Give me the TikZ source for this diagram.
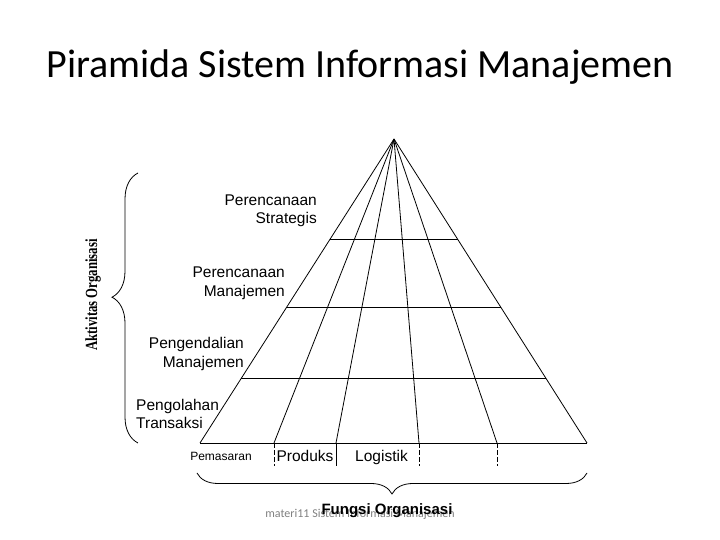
\documentclass[tikz,border=0pt]{standalone}
\usepackage{fontspec}
\setmainfont{Liberation Sans}
\newfontfamily\titlefont{Carlito}
\newfontfamily\serifbold{Liberation Serif}
\usetikzlibrary{calc,decorations.pathreplacing}
\begin{document}
\begin{tikzpicture}[x=1pt, y=1pt,
      lvl/.style={inner sep=0pt, font=\fontsize{15.5}{18.5}\selectfont},
      edge/.style={line width=0.8pt},
      tick/.style={line width=0.8pt, dashed, dash pattern=on 5pt off 2pt},
      curly/.style={line width=0.8pt, decorate}
    ]
      \useasboundingbox (0,0) rectangle (720,540);

      \node[anchor=base, inner sep=0pt, font=\titlefont\fontsize{40}{46}\selectfont] (title) at (360,462) {Piramida Sistem Informasi Manajemen};

      \coordinate (A) at (394,401);
      \coordinate (b0) at (200,97);
      \coordinate (b1) at (274,97);
      \coordinate (b2) at (336,97);
      \coordinate (b3) at (419,97);
      \coordinate (b4) at (497,97);
      \coordinate (b5) at (587,97);

      \foreach \i in {0,...,5}
        \draw[edge] (A) -- (b\i);
      \draw[edge] (b0) -- (b5);
      \foreach \t in {0.329,0.553,0.789}
        \draw[edge] ($(A)!\t!(b0)$) -- ($(A)!\t!(b5)$);

      \draw[tick] (b1) -- ++(0,-23);
      \draw[edge] (b2) -- ++(0,-23);
      \draw[tick] (b3) -- ++(0,-23);
      \draw[tick] (b4) -- ++(0,-23);

      \node[lvl, anchor=east, align=right] (strat) at (317,329) {Perencanaan\\Strategis};
      \node[lvl, anchor=east, align=right] (renc) at (285,256.5) {Perencanaan\\Manajemen};
      \node[lvl, anchor=east, align=right] (kend) at (244,186) {Pengendalian\\Manajemen};
      \node[lvl, anchor=west, align=left] (olah) at (136,126) {Pengolahan\\Transaksi};

      \node[anchor=base, inner sep=0pt, font=\fontsize{12}{14}\selectfont] (pasar) at (221,79) {Pemasaran};
      \node[lvl, anchor=base] (prod) at (305,78) {Produks};
      \node[lvl, anchor=base] (logis) at (381.5,78) {Logistik};

      \coordinate (lb) at (138,97);
      \coordinate (lt) at (138,367);
      \draw[curly, decoration={brace, amplitude=26pt, aspect=0.54}] (lb) -- (lt);
      \node[rotate=90, inner sep=0pt, font=\serifbold\bfseries\fontsize{17}{20}\selectfont] (aktiv) at (93,245) {\scalebox{0.75}[1]{Aktivitas Organisasi}};

      \coordinate (br) at (587,67);
      \coordinate (bl) at (197,67);
      \draw[curly, decoration={brace, amplitude=21pt, aspect=0.5}] (br) -- (bl);

      \node[anchor=base, inner sep=0pt, text=gray, font=\titlefont\fontsize{12}{14}\selectfont] (foot) at (360,22) {materi11 Sistem Informasi Manajemen};
      \node[anchor=base, inner sep=0pt, font=\bfseries\fontsize{15}{18}\selectfont] (fungsi) at (387,25) {Fungsi Organisasi};
\end{tikzpicture}
\end{document}
